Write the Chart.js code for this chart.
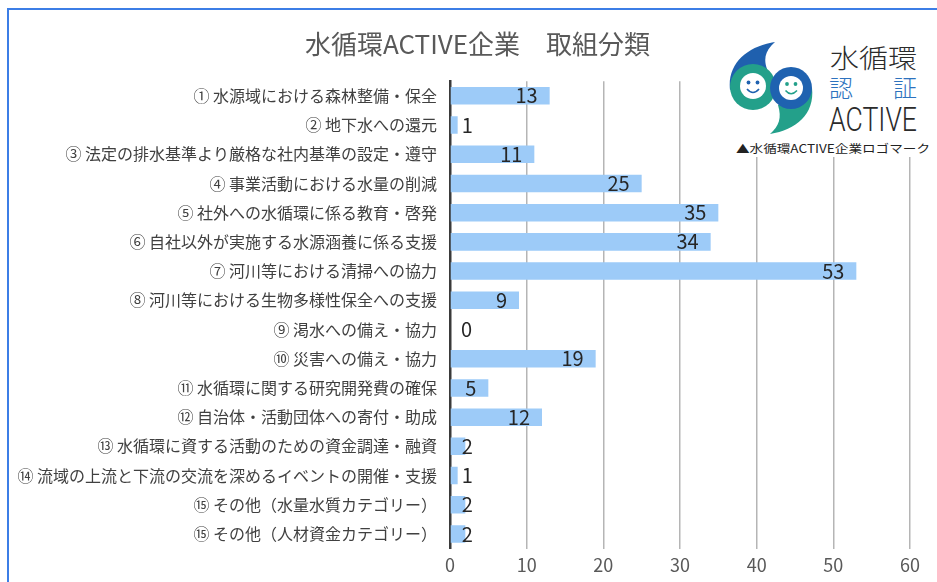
<!DOCTYPE html>
<html lang="ja">
<head>
<meta charset="utf-8">
<script src="https://cdn.jsdelivr.net/npm/chart.js@4"></script>
<style>
  html, body { margin: 0; padding: 0; background: #ffffff; }
  #wrap { position: relative; width: 937px; height: 582px; overflow: hidden; background: #fff; }
  #chart { position: absolute; left: 0; top: 0; }
  #frame { position: absolute; left: 7px; top: 8px; right: -10px; bottom: -10px;
           border-top: 2px solid #3c7ee6; border-left: 2px solid #3c7ee6; pointer-events: none; }
  #logo { position: absolute; left: 722px; top: 28px; width: 215px; height: 129px; background: #fff; }
</style>
</head>
<body>
<div id="wrap">
  <canvas id="chart" width="937" height="582"></canvas>
  <div id="frame"></div>
  <svg id="logo" width="215" height="129" viewBox="722 28 215 129" xmlns="http://www.w3.org/2000/svg">
    <path d="M730,90 C727,63 748,46 775,42 C766,50 763,58 767,69 Z" fill="#1f60ae"/>
    <path d="M812,88 C815,114 796,130 770,134 C779,126 782,118 778,105 Z" fill="#23a08a"/>
    <circle cx="753" cy="87" r="23" fill="#23a08a"/>
    <circle cx="791" cy="88" r="21" fill="#1f62b0"/>
    <circle cx="753" cy="86" r="13" fill="#ffffff"/>
    <circle cx="791" cy="88" r="12" fill="#ffffff"/>
    <circle cx="748.5" cy="82.5" r="1.9" fill="#1f62b0"/>
    <circle cx="757.5" cy="82.5" r="1.9" fill="#1f62b0"/>
    <path d="M747,89 Q753,96 759,89" stroke="#1f62b0" stroke-width="1.6" fill="none"/>
    <circle cx="787" cy="84" r="1.9" fill="#23a08a"/>
    <circle cx="795.5" cy="84" r="1.9" fill="#23a08a"/>
    <path d="M785.5,90.5 Q791,97 797,90.5" stroke="#23a08a" stroke-width="1.6" fill="none"/>
    <text x="830" y="68" font-family="Noto Sans CJK JP" font-size="26" font-weight="300" fill="#2b2b2b" textLength="87" lengthAdjust="spacingAndGlyphs">水循環</text>
    <text x="829" y="97" font-family="Noto Sans CJK JP" font-size="24" font-weight="300" fill="#2d72be">認</text>
    <text x="893" y="97" font-family="Noto Sans CJK JP" font-size="24" font-weight="300" fill="#2d72be">証</text>
    <text x="829" y="131" font-family="Roboto" font-weight="300" font-size="34" fill="#2b2b2b" textLength="88" lengthAdjust="spacingAndGlyphs">ACTIVE</text>
    <text x="736" y="153" font-family="Noto Sans CJK JP" font-size="11.5" fill="#222" textLength="194" lengthAdjust="spacingAndGlyphs">▲水循環ACTIVE企業ロゴマーク</text>
  </svg>
</div>
<script>
const chartTitle = '水循環ACTIVE企業　取組分類';
const categories = [
  '① 水源域における森林整備・保全',
  '② 地下水への還元',
  '③ 法定の排水基準より厳格な社内基準の設定・遵守',
  '④ 事業活動における水量の削減',
  '⑤ 社外への水循環に係る教育・啓発',
  '⑥ 自社以外が実施する水源涵養に係る支援',
  '⑦ 河川等における清掃への協力',
  '⑧ 河川等における生物多様性保全への支援',
  '⑨ 渇水への備え・協力',
  '⑩ 災害への備え・協力',
  '⑪ 水循環に関する研究開発費の確保',
  '⑫ 自治体・活動団体への寄付・助成',
  '⑬ 水循環に資する活動のための資金調達・融資',
  '⑭ 流域の上流と下流の交流を深めるイベントの開催・支援',
  '⑮ その他（水量水質カテゴリー）',
  '⑮ その他（人材資金カテゴリー）'
];
const values = [13, 1, 11, 25, 35, 34, 53, 9, 0, 19, 5, 12, 2, 1, 2, 2];
const xTicks = [0, 10, 20, 30, 40, 50, 60];

const FONT = '"Noto Sans CJK JP", "Noto Sans", sans-serif';

const valueLabels = {
  id: 'valueLabels',
  afterLayout(chart) {
    if (chart.titleBlock) {
      chart.titleBlock.left = 45;
      chart.titleBlock.right = 910;
    }
  },
  afterDatasetsDraw(chart) {
    const ctx = chart.ctx;
    const meta = chart.getDatasetMeta(0);
    ctx.save();
    ctx.font = '20px ' + FONT;
    ctx.fillStyle = '#262626';
    ctx.textAlign = 'right';
    ctx.textBaseline = 'middle';
    meta.data.forEach((bar, i) => {
      const txt = String(values[i]);
      const w = ctx.measureText(txt).width;
      let right = bar.x - 12;
      if (right - w < bar.base + 11) right = bar.base + 11 + w;
      ctx.fillText(txt, right, bar.y);
    });
    ctx.restore();
  }
};

new Chart(document.getElementById('chart'), {
  type: 'bar',
  data: {
    labels: categories,
    datasets: [{
      data: values,
      backgroundColor: '#9dcbf8',
      borderWidth: 0,
      barPercentage: 0.6,
      categoryPercentage: 1.0
    }]
  },
  options: {
    indexAxis: 'y',
    responsive: false,
    animation: false,
    devicePixelRatio: 1,
    layout: { padding: { left: 0, right: 27, top: 0, bottom: 0 } },
    plugins: {
      legend: { display: false },
      tooltip: { enabled: false },
      title: {
        display: true,
        text: chartTitle,
        color: '#595959',
        font: { family: FONT, size: 26, weight: 'normal', lineHeight: 1.2 },
        padding: { top: 29, bottom: 21 }
      }
    },
    scales: {
      x: {
        type: 'linear',
        min: 0,
        max: 60,
        afterBuildTicks(scale) { scale.ticks = xTicks.map(v => ({ value: v })); },
        afterFit(scale) { scale.height = 33.4; },
        grid: { color: '#b5b5b5', lineWidth: 1.5, drawTicks: false },
        border: { display: false },
        ticks: { color: '#595959', padding: 6, font: { family: FONT, size: 18 } }
      },
      y: {
        type: 'category',
        afterFit(scale) { scale.width = 450; },
        grid: { display: false, drawTicks: false },
        border: { display: true, color: '#3a3a3a', width: 2.5 },
        ticks: { color: '#404040', padding: 13, autoSkip: false, font: { family: FONT, size: 16 } }
      }
    }
  },
  plugins: [valueLabels]
});
</script>
</body>
</html>
